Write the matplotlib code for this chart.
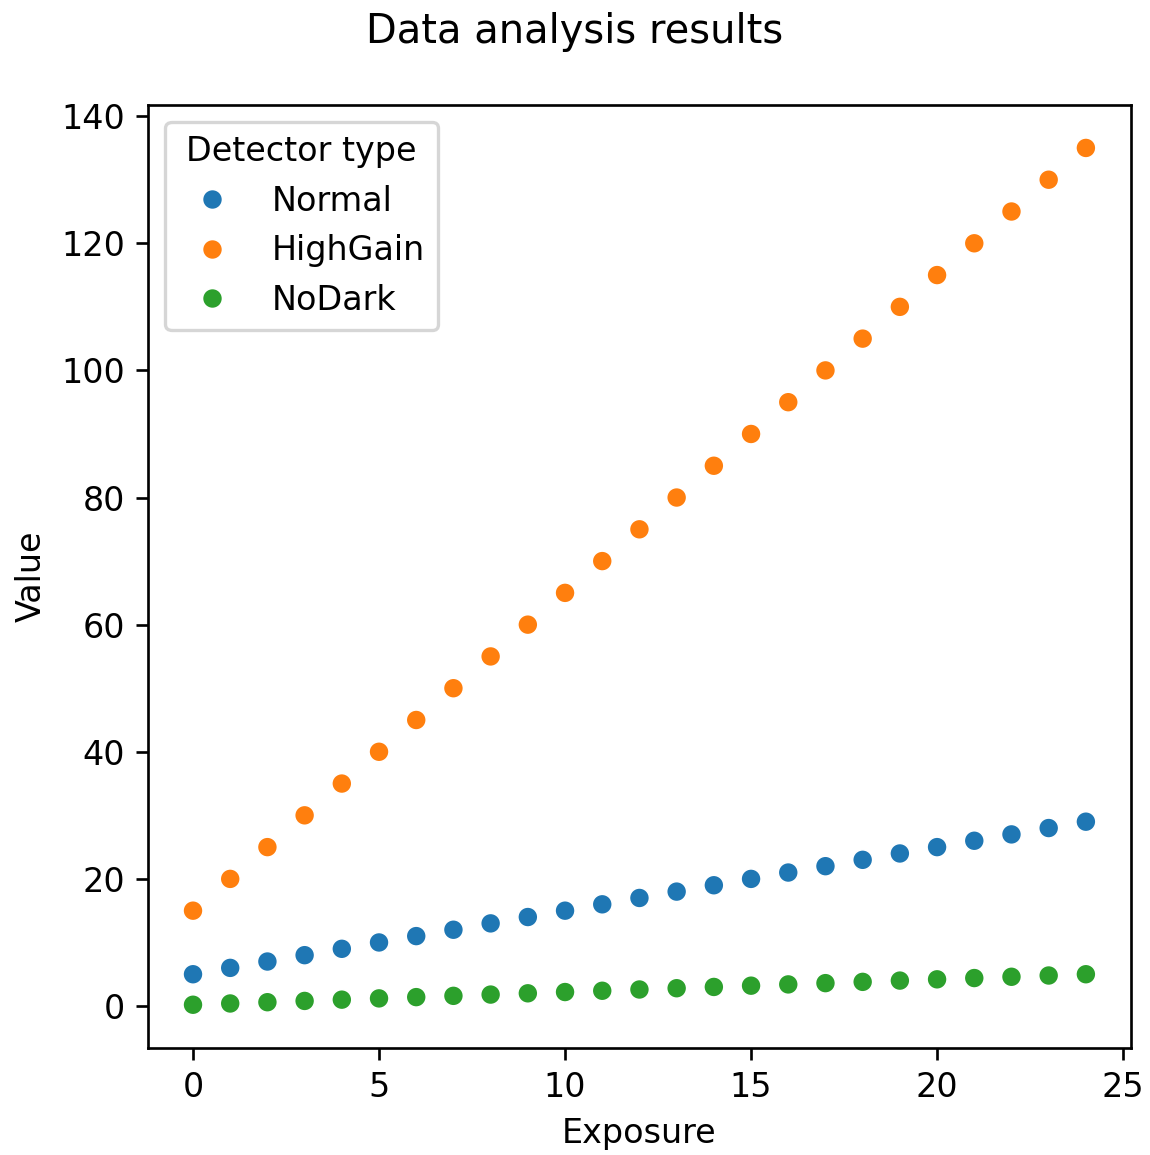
import numpy as np
import pandas as pd
import matplotlib
matplotlib.use('Agg')
import matplotlib.pyplot as plt
import seaborn as sns

exposure = list(range(25))
normal = [5, 6, 7, 8, 9, 10, 11, 12, 13, 14, 15, 16, 17, 18, 19, 20, 21, 22, 23, 24, 25, 26, 27, 28, 29]
high_gain = [15, 20, 25, 30, 35, 40, 45, 50, 55, 60, 65, 70, 75, 80, 85, 90, 95, 100, 105, 110, 115, 120, 125, 130, 135]
no_dark = [0.2, 0.4, 0.6, 0.8, 1.0, 1.2, 1.4, 1.6, 1.8, 2.0, 2.2, 2.4, 2.6, 2.8, 3.0,
           3.2, 3.4, 3.6, 3.8, 4.0, 4.2, 4.4, 4.6, 4.8, 5.0]
detectors = ['Normal', 'HighGain', 'NoDark']

df = pd.DataFrame({
    'Exposure': exposure * 3,
    'Value': normal + high_gain + no_dark,
    'Detector type': [d for d in detectors for _ in exposure],
})

# smaller canvas at higher dpi -> text and dots come out larger, as in the original
fig, ax = plt.subplots(figsize=(4.792, 4.8125), dpi=240)
sns.scatterplot(data=df, x='Exposure', y='Value', hue='Detector type', ax=ax)
fig.suptitle('Data analysis results', y=0.99)
fig.subplots_adjust(left=0.129, right=0.983, bottom=0.093, top=0.909)
fig.savefig('out.png')
